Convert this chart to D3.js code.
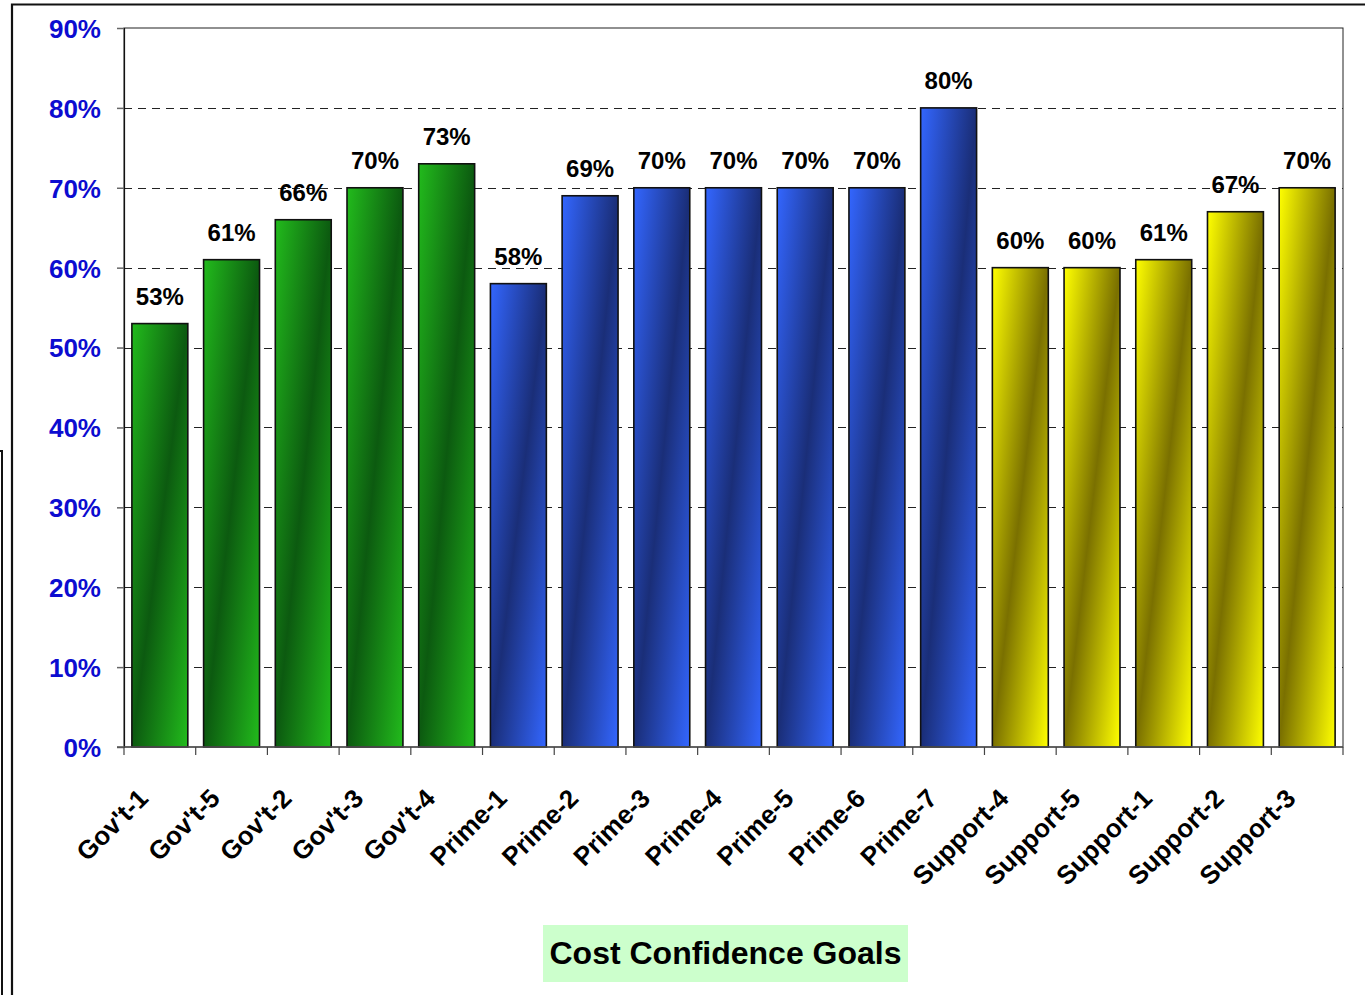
<!DOCTYPE html>
<html>
<head>
<meta charset="utf-8">
<script src="https://cdn.jsdelivr.net/npm/d3@7"></script>
<style>
  html, body { margin: 0; padding: 0; background: #fff; }
  svg { display: block; font-family: "Liberation Sans", Arial, sans-serif; }
</style>
</head>
<body>
<svg id="chart" width="1365" height="995"></svg>
<script>
// Cost confidence goals by organisation
const categories = ["Gov't-1", "Gov't-5", "Gov't-2", "Gov't-3", "Gov't-4",
  "Prime-1", "Prime-2", "Prime-3", "Prime-4", "Prime-5", "Prime-6", "Prime-7",
  "Support-4", "Support-5", "Support-1", "Support-2", "Support-3"];
const groups = ["gov", "gov", "gov", "gov", "gov",
  "prime", "prime", "prime", "prime", "prime", "prime", "prime",
  "support", "support", "support", "support", "support"];
const values = [0.53, 0.61, 0.66, 0.70, 0.73,
  0.58, 0.69, 0.70, 0.70, 0.70, 0.70, 0.80,
  0.60, 0.60, 0.61, 0.67, 0.70];
const yTicks = [0, 0.1, 0.2, 0.3, 0.4, 0.5, 0.6, 0.7, 0.8, 0.9];
const title = "Cost Confidence Goals";

// Gradient colours per group: [light edge, dark middle]
const palette = {
  gov: ["#22bb1c", "#0c5a10"],
  prime: ["#3366ff", "#1a2e78"],
  support: ["#ffff00", "#7a7000"]
};

const svg = d3.select("#chart");
const plot = { left: 124, right: 1343, top: 28, bottom: 747 };

const x = d3.scaleBand()
  .domain(categories)
  .range([plot.left, plot.right])
  .paddingInner(0.22)
  .paddingOuter(0.11);

const y = d3.scaleLinear()
  .domain([0, 0.9])
  .range([plot.bottom, plot.top]);

// Outer frames
svg.append("path")
  .attr("d", "M12,995 V4.5 H1365")
  .attr("fill", "none").attr("stroke", "#111").attr("stroke-width", 2.2);
svg.append("path")
  .attr("d", "M0,451 H2 V995")
  .attr("fill", "none").attr("stroke", "#111").attr("stroke-width", 2);

// Diagonal gradients
const defs = svg.append("defs");
Object.entries(palette).forEach(([key, [light, dark]]) => {
  const g = defs.append("linearGradient")
    .attr("id", "grad-" + key)
    .attr("x1", 0).attr("y1", 0).attr("x2", 1).attr("y2", 1);
  g.append("stop").attr("offset", "0%").attr("stop-color", light);
  g.append("stop").attr("offset", "50%").attr("stop-color", dark);
  g.append("stop").attr("offset", "100%").attr("stop-color", light);
});

// Plot area frame
svg.append("rect")
  .attr("x", plot.left).attr("y", plot.top)
  .attr("width", plot.right - plot.left).attr("height", plot.bottom - plot.top)
  .attr("fill", "#fff").attr("stroke", "#222").attr("stroke-width", 1);

// Dashed gridlines
svg.append("g")
  .selectAll("line")
  .data(yTicks.filter(t => t > 0 && t < 0.9))
  .join("line")
  .attr("x1", plot.left).attr("x2", plot.right)
  .attr("y1", d => Math.round(y(d)) + 0.5).attr("y2", d => Math.round(y(d)) + 0.5)
  .attr("stroke", "#222").attr("stroke-width", 1)
  .attr("stroke-dasharray", "8,6");

// Y axis
const yAxis = svg.append("g")
  .attr("transform", `translate(${plot.left},0)`)
  .call(d3.axisLeft(y).tickValues(yTicks).tickFormat(d3.format(".0%")).tickSize(7).tickPadding(16));
yAxis.select(".domain").attr("stroke", "#111").attr("stroke-width", 1.2);
yAxis.selectAll(".tick line").attr("stroke", "#666").attr("stroke-width", 1.5);
yAxis.selectAll(".tick text")
  .attr("fill", "#0c0cd0")
  .attr("font-size", 26)
  .attr("font-weight", "bold")
  .attr("dy", "0.36em")
  .attr("font-family", "'Liberation Sans', Arial, sans-serif");

// Bars
svg.append("g")
  .selectAll("rect")
  .data(categories)
  .join("rect")
  .attr("x", d => x(d))
  .attr("y", (d, i) => y(values[i]))
  .attr("width", x.bandwidth())
  .attr("height", (d, i) => y(0) - y(values[i]))
  .attr("fill", (d, i) => `url(#grad-${groups[i]})`)
  .attr("stroke", "#111")
  .attr("stroke-width", 1.6);

// X axis with ticks on category boundaries
const xAxisG = svg.append("g");
xAxisG.append("line")
  .attr("x1", plot.left - 7).attr("x2", plot.right)
  .attr("y1", plot.bottom).attr("y2", plot.bottom)
  .attr("stroke", "#555").attr("stroke-width", 1.5);
const step = (plot.right - plot.left) / categories.length;
xAxisG.selectAll("line.tick")
  .data(d3.range(categories.length + 1))
  .join("line")
  .attr("class", "tick")
  .attr("x1", i => plot.left + i * step).attr("x2", i => plot.left + i * step)
  .attr("y1", plot.bottom).attr("y2", plot.bottom + 8)
  .attr("stroke", "#444").attr("stroke-width", 1.2);

// Category labels, rotated
svg.append("g")
  .selectAll("text")
  .data(categories)
  .join("text")
  .attr("transform", d => `translate(${x(d) + x.bandwidth() / 2 - 10},${plot.bottom + 53}) rotate(-45)`)
  .attr("text-anchor", "end")
  .attr("font-size", 26)
  .attr("font-weight", "bold")
  .attr("fill", "#000")
  .text(d => d);

// Value labels
svg.append("g")
  .selectAll("text")
  .data(categories)
  .join("text")
  .attr("x", d => x(d) + x.bandwidth() / 2)
  .attr("y", (d, i) => y(values[i]) - 19)
  .attr("text-anchor", "middle")
  .attr("font-size", 24)
  .attr("font-weight", "bold")
  .attr("fill", "#000")
  .text((d, i) => d3.format(".0%")(values[i]));

// Axis title box
const tg = svg.append("g");
tg.append("rect")
  .attr("x", 543).attr("y", 925).attr("width", 365).attr("height", 57)
  .attr("fill", "#ccffcc");
tg.append("text")
  .attr("x", 725.5).attr("y", 964)
  .attr("text-anchor", "middle")
  .attr("font-size", 32)
  .attr("font-weight", "bold")
  .attr("fill", "#000")
  .text(title);
</script>
</body>
</html>
